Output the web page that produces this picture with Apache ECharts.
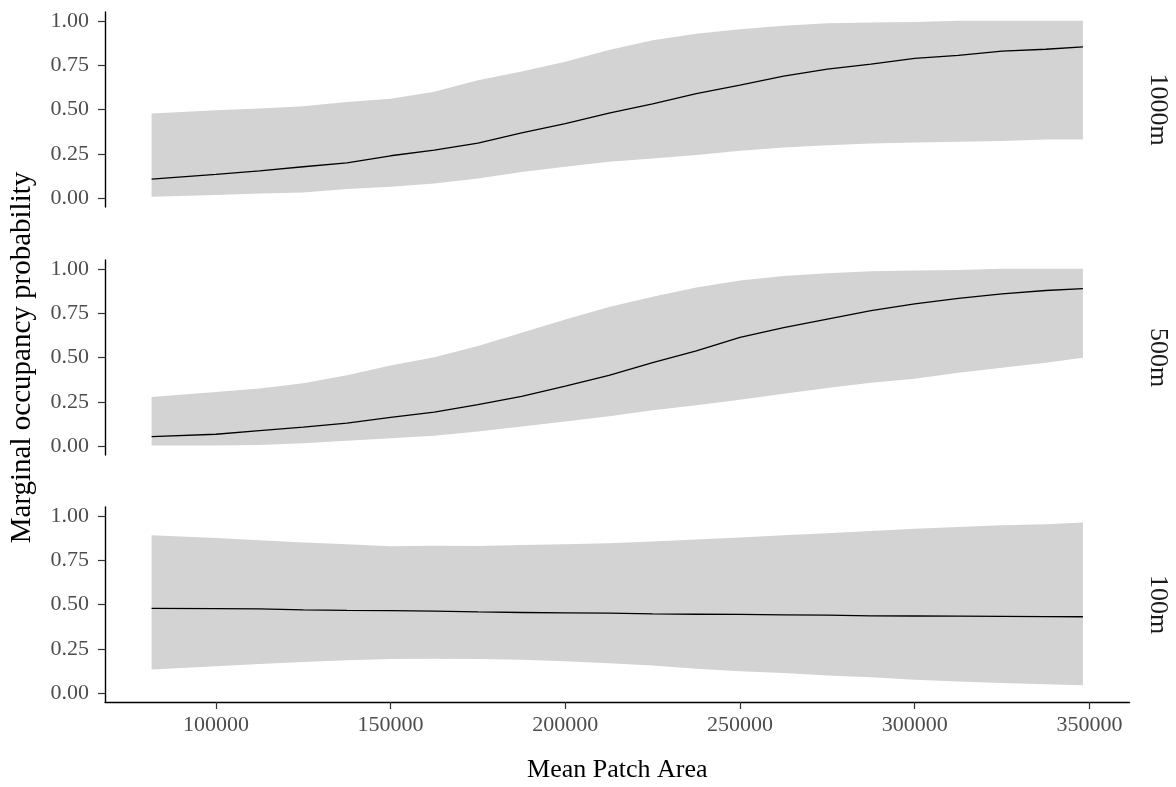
<!DOCTYPE html>
<html>
<head>
<meta charset="utf-8">
<script src="https://cdn.jsdelivr.net/npm/echarts@6/dist/echarts.min.js"></script>
<style>
html,body{margin:0;padding:0;background:#fff;}
#chart{width:1176px;height:787px;}
</style>
</head>
<body>
<div id="chart"></div>
<script>
// ---- data ----
const panelLabels = ['1000m', '500m', '100m'];
const xValues = [81600, 100000, 112500, 125000, 137500, 150000, 162500, 175000, 187500, 200000, 212500,
                 225000, 237500, 250000, 262500, 275000, 287500, 300000, 312500, 325000, 337500, 348150];

const mean1000 = [0.107, 0.134, 0.154, 0.177, 0.199, 0.239, 0.271, 0.310, 0.368, 0.420, 0.480,
                  0.532, 0.590, 0.637, 0.688, 0.728, 0.756, 0.788, 0.805, 0.829, 0.840, 0.853];
const lower1000 = [0.008, 0.017, 0.026, 0.032, 0.051, 0.064, 0.083, 0.111, 0.148, 0.177, 0.205,
                   0.224, 0.243, 0.267, 0.286, 0.299, 0.308, 0.314, 0.318, 0.323, 0.331, 0.331];
const upper1000 = [0.477, 0.496, 0.506, 0.519, 0.543, 0.560, 0.600, 0.665, 0.715, 0.770, 0.835,
                   0.890, 0.928, 0.952, 0.972, 0.986, 0.991, 0.993, 1.000, 1.000, 1.000, 1.000];

const mean500 = [0.054, 0.067, 0.088, 0.107, 0.130, 0.162, 0.192, 0.234, 0.281, 0.338, 0.399,
                 0.471, 0.537, 0.613, 0.669, 0.717, 0.764, 0.802, 0.834, 0.859, 0.878, 0.888];
const lower500 = [0.003, 0.003, 0.007, 0.016, 0.031, 0.044, 0.058, 0.082, 0.111, 0.139, 0.168,
                  0.202, 0.230, 0.262, 0.296, 0.328, 0.357, 0.380, 0.414, 0.442, 0.471, 0.499];
const upper500 = [0.277, 0.305, 0.325, 0.355, 0.400, 0.455, 0.502, 0.565, 0.640, 0.715, 0.785,
                  0.843, 0.895, 0.935, 0.960, 0.975, 0.986, 0.991, 0.993, 1.000, 1.000, 1.000];

const mean100 = [0.478, 0.477, 0.475, 0.470, 0.467, 0.465, 0.463, 0.458, 0.455, 0.453, 0.451,
                 0.447, 0.445, 0.444, 0.442, 0.440, 0.436, 0.435, 0.434, 0.433, 0.432, 0.431];
const lower100 = [0.134, 0.152, 0.164, 0.175, 0.185, 0.192, 0.194, 0.193, 0.189, 0.180, 0.168,
                  0.156, 0.138, 0.124, 0.113, 0.100, 0.090, 0.075, 0.065, 0.057, 0.050, 0.044];
const upper100 = [0.891, 0.875, 0.862, 0.850, 0.840, 0.829, 0.832, 0.830, 0.836, 0.840, 0.846,
                  0.855, 0.866, 0.878, 0.890, 0.902, 0.915, 0.927, 0.937, 0.947, 0.953, 0.962];

const yTicks = [0, 0.25, 0.5, 0.75, 1];
const xTicks = [100000, 150000, 200000, 250000, 300000, 350000];
const xTitle = 'Mean Patch Area';
const yTitle = 'Marginal occupancy probability';

const panels = [
  {mean: mean1000, lower: lower1000, upper: upper1000},
  {mean: mean500, lower: lower500, upper: upper500},
  {mean: mean100, lower: lower100, upper: upper100}
];

// ---- layout ----
const FONT = '"Liberation Serif", "Times New Roman", serif';
const gridTops = [12, 260, 507];
const gridH = 195;
const X_MIN = 68260, X_MAX = 361480;

const grids = [], xAxes = [], yAxes = [], series = [];
panels.forEach((p, i) => {
  grids.push({left: 105, right: 46.5, top: gridTops[i], height: gridH, containLabel: false, outerBoundsMode: 'none'});
  const isBottom = i === panels.length - 1;
  xAxes.push({
    type: 'value', gridIndex: i, min: X_MIN, max: X_MAX,
    show: isBottom,
    axisLine: {show: true, onZero: false, lineStyle: {color: '#000', width: 1.4}},
    axisTick: {show: true, length: 7, customValues: xTicks, lineStyle: {color: '#333', width: 1.2}},
    axisLabel: {show: true, customValues: xTicks, margin: 12, color: '#4d4d4d', fontFamily: FONT, fontSize: 22,
                formatter: v => String(v)},
    splitLine: {show: false},
    name: isBottom ? xTitle : '', nameLocation: 'middle', nameGap: 55,
    nameTextStyle: {color: '#000', fontFamily: FONT, fontSize: 26}
  });
  yAxes.push({
    type: 'value', gridIndex: i, min: -0.05, max: 1.05,
    axisLine: {show: true, onZero: false, lineStyle: {color: '#000', width: 1.4}},
    axisTick: {show: true, length: 7, customValues: yTicks, lineStyle: {color: '#333', width: 1.2}},
    axisLabel: {show: true, customValues: yTicks, margin: 16, color: '#4d4d4d', fontFamily: FONT, fontSize: 22,
                formatter: v => v.toFixed(2)},
    splitLine: {show: false},
    name: i === 1 ? yTitle : '', nameLocation: 'middle', nameGap: 68,
    nameTextStyle: {color: '#000', fontFamily: FONT, fontSize: 29}
  });
  // confidence band as a polygon through the axis scales
  series.push({
    type: 'custom', xAxisIndex: i, yAxisIndex: i, silent: true, z: 1,
    data: xValues.map((x, k) => [x, p.lower[k], p.upper[k]]),
    encode: {x: 0, y: [1, 2]},
    renderItem: (params, api) => {
      if (params.dataIndex !== 0) return null;
      const pts = [];
      for (let k = 0; k < xValues.length; k++) pts.push(api.coord([xValues[k], p.upper[k]]));
      for (let k = xValues.length - 1; k >= 0; k--) pts.push(api.coord([xValues[k], p.lower[k]]));
      return {type: 'polygon', shape: {points: pts}, style: {fill: '#d3d3d3'}};
    }
  });
  series.push({
    type: 'line', xAxisIndex: i, yAxisIndex: i, symbol: 'none', silent: true, z: 3,
    lineStyle: {color: '#000', width: 1.3},
    data: xValues.map((x, k) => [x, p.mean[k]])
  });
});

const graphics = panelLabels.map((t, i) => ({
  type: 'text', x: 1158, y: gridTops[i] + gridH / 2, rotation: -Math.PI / 2,
  style: {text: t, fill: '#1a1a1a', font: '26px ' + FONT, align: 'center', verticalAlign: 'middle'}
}));

const chart = echarts.init(document.getElementById('chart'), null, {renderer: 'canvas'});
chart.setOption({
  animation: false,
  backgroundColor: '#fff',
  grid: grids, xAxis: xAxes, yAxis: yAxes, series: series,
  graphic: graphics
});
</script>
</body>
</html>
